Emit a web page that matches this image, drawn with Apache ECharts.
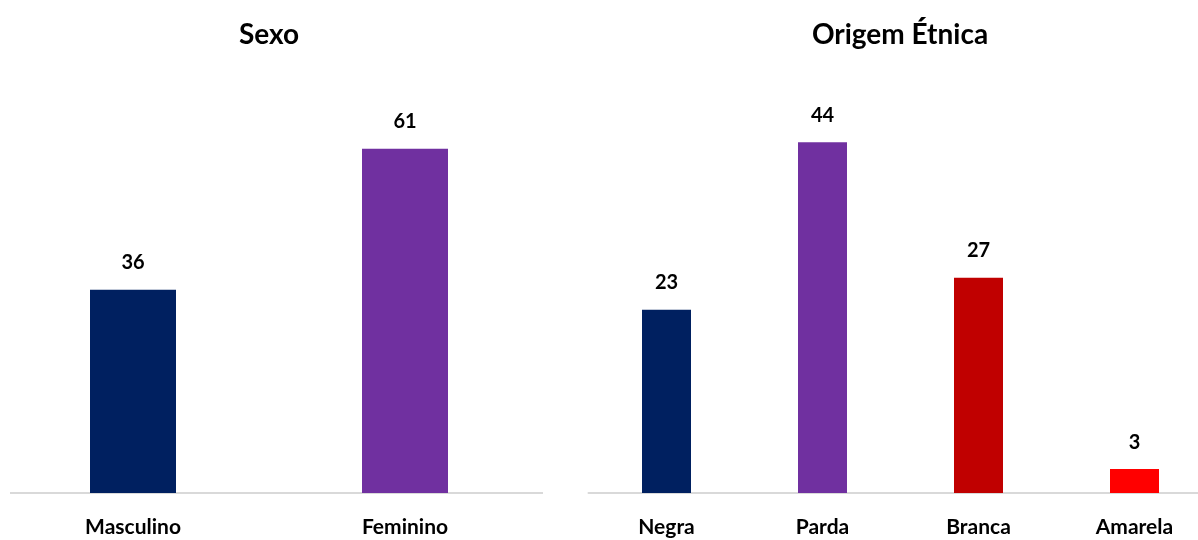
<!DOCTYPE html>
<html>
<head>
<meta charset="utf-8">
<script src="https://cdn.jsdelivr.net/npm/echarts@6/dist/echarts.min.js"></script>
<style>
  html, body { margin: 0; padding: 0; background: #ffffff; overflow: hidden; width: 1198px; height: 540px; }
  #chart { position: absolute; left: -20px; top: 0; width: 1240px; height: 540px; }
</style>
</head>
<body>
<div id="chart"></div>
<script>
const sexoCategories = ['Masculino', 'Feminino'];
const sexoValues = [36, 61];
const sexoColors = ['#002060', '#7030A0'];

const etniaCategories = ['Negra', 'Parda', 'Branca', 'Amarela'];
const etniaValues = [23, 44, 27, 3];
const etniaColors = ['#002060', '#7030A0', '#C00000', '#FF0000'];

const titles = ['Sexo', 'Origem Étnica'];

const FONT = 'Lato, "Liberation Sans", sans-serif';
const OX = 20; // container offset (chart div starts 20px left of the page)

const chart = echarts.init(document.getElementById('chart'), null, { renderer: 'canvas' });

function xAxisCfg(cats, gridIndex, showLine) {
  return {
    type: 'category', gridIndex: gridIndex, data: cats,
    axisLine: { show: showLine, lineStyle: { color: '#d9d9d9', width: 2 } },
    axisTick: { show: false },
    axisLabel: { color: '#000', fontFamily: FONT, fontWeight: 'bold', fontSize: 21, margin: 24 }
  };
}
function yAxisCfg(max, gridIndex) {
  return {
    type: 'value', gridIndex: gridIndex, min: 0, max: max,
    show: false, splitLine: { show: false }
  };
}
function seriesCfg(vals, colors, idx, width) {
  return {
    type: 'bar', xAxisIndex: idx, yAxisIndex: idx,
    data: vals.map((v, i) => ({ value: v, itemStyle: { color: colors[i] } })),
    barWidth: width,
    label: { show: true, position: 'top', distance: 17, color: '#000',
             fontFamily: FONT, fontWeight: 'bold', fontSize: 20 },
    animation: false
  };
}

chart.setOption({
  animation: false,
  grid: [
    { left: -3 + OX, width: 544, top: 98, bottom: 47, containLabel: false },
    { left: 588.5 + OX, width: 624, top: 94.5, bottom: 47, containLabel: false }
  ],
  xAxis: [xAxisCfg(sexoCategories, 0, false), xAxisCfg(etniaCategories, 1, true)],
  yAxis: [yAxisCfg(70, 0), yAxisCfg(50, 1)],
  series: [
    seriesCfg(sexoValues, sexoColors, 0, 86),
    seriesCfg(etniaValues, etniaColors, 1, 49)
  ],
  graphic: [
    { type: 'line', z: 0, shape: { x1: 10 + OX, y1: 493, x2: 543 + OX, y2: 493 },
      style: { stroke: '#d9d9d9', lineWidth: 2 } },
    { type: 'text', x: 269 + OX, y: 35, style: { text: titles[0], fill: '#000',
      font: 'bold 28px ' + FONT, textAlign: 'center', textVerticalAlign: 'middle' } },
    { type: 'text', x: 900 + OX, y: 35, style: { text: titles[1], fill: '#000',
      font: 'bold 28px ' + FONT, textAlign: 'center', textVerticalAlign: 'middle' } }
  ]
});
</script>
</body>
</html>
